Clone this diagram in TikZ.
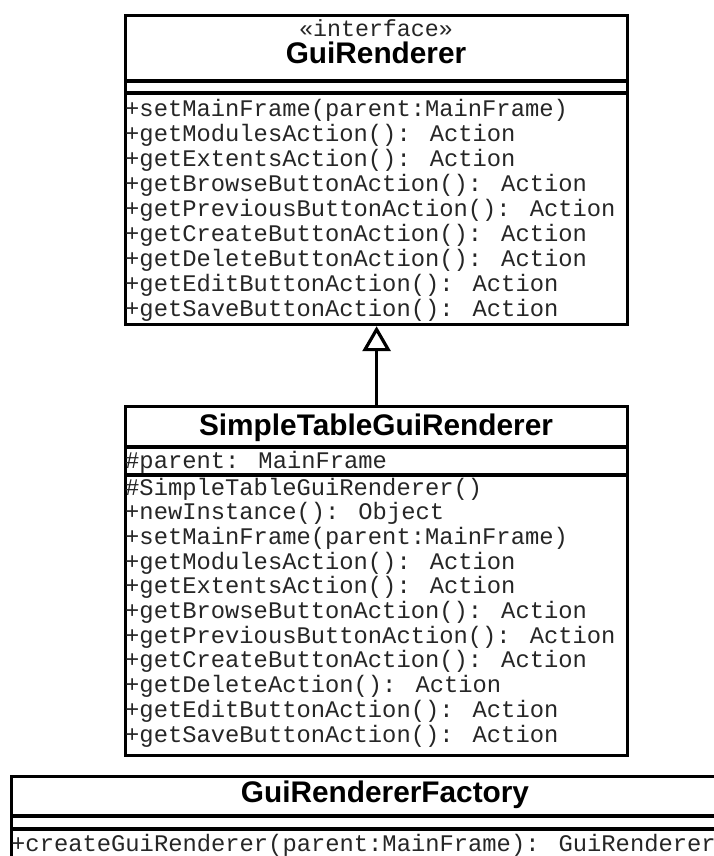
\documentclass[tikz,border=0pt]{standalone}
\usepackage{fontspec}
\setmainfont{Liberation Sans}
\newfontfamily\memfont{Liberation Mono}
\newfontfamily\titlefont{Liberation Sans}
\usetikzlibrary{arrows.meta}
\tikzset{
  box/.style={draw=black, line width=3.2bp, rectangle, inner sep=0pt, fill=white},
  sepline/.style={draw=black, line width=3.2bp},
  member/.style={anchor=base west, inner sep=0pt, text=black!85, font=\memfont\fontsize{23.8bp}{25bp}\selectfont},
  stereo/.style={anchor=base, inner sep=0pt, text=black!85, font=\memfont\fontsize{23.3bp}{25bp}\selectfont},
  cname/.style={anchor=base, inner sep=0pt, font=\titlefont\bfseries\fontsize{29.8bp}{32bp}\selectfont},
  realize/.style={draw=black, line width=3.2bp, -{Triangle[open, length=25bp, width=28bp, line width=3.2bp]}}
}
\begin{document}
\begin{tikzpicture}[x=1bp, y=-1bp]
\useasboundingbox (0,0) rectangle (714,856);
\clip (0,0) rectangle (714,856);
\fill[white] (0,0) rectangle (714,856);

% ---------- GuiRenderer ----------
\node[box, anchor=north west, minimum width=502bp, minimum height=309bp] (gr) at (124,14) {};
\draw[sepline] (124,81) -- (626,81);
\draw[sepline] (124,93) -- (626,93);
\node[stereo] (grst) at (376,36) {«interface»};
\node[cname] (grn) at (376,63) {GuiRenderer};
\node[member] (g1) at (125,116) {+setMainFrame(parent:MainFrame)};
\node[member] (g2) at (125,141) {+getModulesAction(): Action};
\node[member] (g3) at (125,166) {+getExtentsAction(): Action};
\node[member] (g4) at (125,191) {+getBrowseButtonAction(): Action};
\node[member] (g5) at (125,216) {+getPreviousButtonAction(): Action};
\node[member] (g6) at (125,241) {+getCreateButtonAction(): Action};
\node[member] (g7) at (125,266) {+getDeleteButtonAction(): Action};
\node[member] (g8) at (125,291) {+getEditButtonAction(): Action};
\node[member] (g9) at (125,316) {+getSaveButtonAction(): Action};

% ---------- SimpleTableGuiRenderer ----------
\node[box, anchor=north west, minimum width=502bp, minimum height=349bp] (st) at (124,405) {};
\draw[sepline] (124,447) -- (626,447);
\draw[sepline] (124,475) -- (626,475);
\node[cname] (stn) at (376,435) {SimpleTableGuiRenderer};
\node[member] (sa) at (125,468) {\#parent: MainFrame};
\node[member] (s1) at (125,495.0) {\#SimpleTableGuiRenderer()};
\node[member] (s2) at (125,519.7) {+newInstance(): Object};
\node[member] (s3) at (125,544.4) {+setMainFrame(parent:MainFrame)};
\node[member] (s4) at (125,569.1) {+getModulesAction(): Action};
\node[member] (s5) at (125,593.8) {+getExtentsAction(): Action};
\node[member] (s6) at (125,618.5) {+getBrowseButtonAction(): Action};
\node[member] (s7) at (125,643.2) {+getPreviousButtonAction(): Action};
\node[member] (s8) at (125,667.9) {+getCreateButtonAction(): Action};
\node[member] (s9) at (125,692.6) {+getDeleteAction(): Action};
\node[member] (s10) at (125,717.3) {+getEditButtonAction(): Action};
\node[member] (s11) at (125,742.0) {+getSaveButtonAction(): Action};

% ---------- GuiRendererFactory ----------
\node[box, anchor=north west, minimum width=750bp, minimum height=125bp] (gf) at (10,775) {};
\draw[sepline] (10,816) -- (760,816);
\draw[sepline] (10,829) -- (760,829);
\node[cname] (gfn) at (385,802) {GuiRendererFactory};
\node[member] (f1) at (11,851) {+createGuiRenderer(parent:MainFrame): GuiRenderer};

% ---------- realization ----------
\draw[realize] (st.north) -- (gr.south);
\end{tikzpicture}
\end{document}
